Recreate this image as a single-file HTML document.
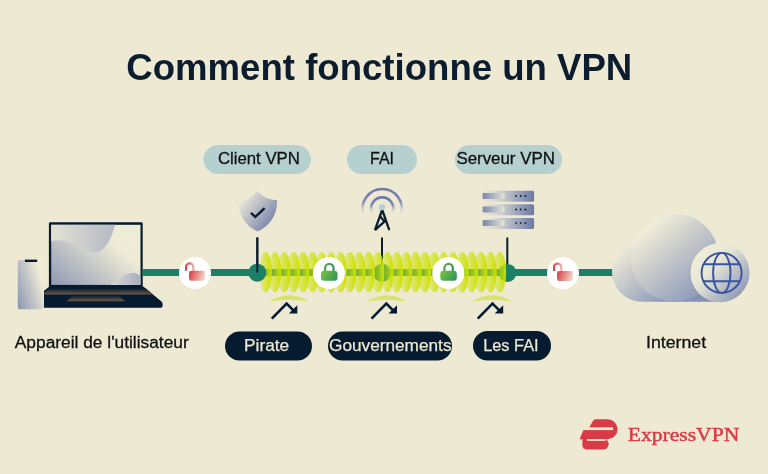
<!DOCTYPE html>
<html><head><meta charset="utf-8">
<style>
html,body{margin:0;padding:0;background:#EEE9D2;width:768px;height:474px;overflow:hidden}
svg{display:block;will-change:transform}
text{font-family:"Liberation Sans",sans-serif}
</style></head><body>
<svg width="768" height="474" viewBox="0 0 768 474">
<defs>
  <linearGradient id="ell" x1="0" y1="0" x2="1" y2="0">
    <stop offset="0" stop-color="#CCE200" stop-opacity="0.28"/>
    <stop offset="0.3" stop-color="#CCE200" stop-opacity="0.5"/>
    <stop offset="1" stop-color="#CCE200" stop-opacity="1"/>
  </linearGradient>
  <linearGradient id="greenlock" x1="0" y1="0" x2="1" y2="1">
    <stop offset="0" stop-color="#74C23C"/>
    <stop offset="1" stop-color="#1C8068"/>
  </linearGradient>
  <linearGradient id="redlock" x1="0" y1="0" x2="1" y2="0.3">
    <stop offset="0" stop-color="#D63A45"/>
    <stop offset="1" stop-color="#F2D8C4"/>
  </linearGradient>
  <linearGradient id="steel" x1="0" y1="0" x2="1" y2="1">
    <stop offset="0" stop-color="#EDEAD6"/>
    <stop offset="1" stop-color="#6E7CA8"/>
  </linearGradient>
  <linearGradient id="cloudg" x1="0.2" y1="0.1" x2="0.8" y2="1">
    <stop offset="0" stop-color="#EDEAD6"/>
    <stop offset="1" stop-color="#7F8CB2"/>
  </linearGradient>
  <linearGradient id="phoneg" x1="0.95" y1="0.45" x2="0" y2="1">
    <stop offset="0" stop-color="#EEEBD6"/>
    <stop offset="1" stop-color="#8A94B2"/>
  </linearGradient>
  <linearGradient id="screeng" x1="0" y1="1" x2="1" y2="0.2">
    <stop offset="0" stop-color="#8F99B4"/>
    <stop offset="0.75" stop-color="#EDEAD5"/>
    <stop offset="1" stop-color="#EEEBD6"/>
  </linearGradient>
  <linearGradient id="blobg" x1="0" y1="0" x2="1" y2="0">
    <stop offset="0" stop-color="#E2E1D2"/>
    <stop offset="1" stop-color="#B5BAC6"/>
  </linearGradient>
  <linearGradient id="bumpg" x1="0" y1="0" x2="1" y2="0">
    <stop offset="0" stop-color="#D9DAD3"/>
    <stop offset="1" stop-color="#A8AEC0"/>
  </linearGradient>
  <linearGradient id="browng" x1="0" y1="0" x2="0" y2="1">
    <stop offset="0" stop-color="#0A1E2C"/>
    <stop offset="1" stop-color="#6E5849"/>
  </linearGradient>
  <linearGradient id="bumpcg" gradientUnits="userSpaceOnUse" x1="618" y1="252" x2="668" y2="305">
    <stop offset="0" stop-color="#EEEBD7"/>
    <stop offset="1" stop-color="#8591B6"/>
  </linearGradient>
  <linearGradient id="bigcg" gradientUnits="userSpaceOnUse" x1="652" y1="226" x2="712" y2="298">
    <stop offset="0" stop-color="#EEEBD7"/>
    <stop offset="1" stop-color="#8390B6"/>
  </linearGradient>
  <linearGradient id="globecg" gradientUnits="userSpaceOnUse" x1="700" y1="252" x2="750" y2="298">
    <stop offset="0" stop-color="#EFECD8"/>
    <stop offset="0.3" stop-color="#E8E7D6"/>
    <stop offset="1" stop-color="#7D8AB3"/>
  </linearGradient>
  <linearGradient id="shieldg" x1="0.05" y1="0.2" x2="0.95" y2="0.95">
    <stop offset="0" stop-color="#EDEAD8"/>
    <stop offset="1" stop-color="#6877A6"/>
  </linearGradient>
  <linearGradient id="arcg" gradientUnits="userSpaceOnUse" x1="0" y1="187" x2="0" y2="216">
    <stop offset="0" stop-color="#6A78A8"/>
    <stop offset="0.5" stop-color="#7C89B3"/>
    <stop offset="1" stop-color="#D8DCD6" stop-opacity="0"/>
  </linearGradient>
  <linearGradient id="arcg2" gradientUnits="userSpaceOnUse" x1="0" y1="196" x2="0" y2="214">
    <stop offset="0" stop-color="#6A78A8"/>
    <stop offset="0.5" stop-color="#7C89B3"/>
    <stop offset="1" stop-color="#D8DCD6" stop-opacity="0"/>
  </linearGradient>
  <linearGradient id="srvg" x1="0" y1="0" x2="1" y2="0">
    <stop offset="0" stop-color="#E4E2D3" stop-opacity="0.3"/>
    <stop offset="0.4" stop-color="#CACDCD"/>
    <stop offset="1" stop-color="#6B79A6"/>
  </linearGradient>
  <linearGradient id="srvpg" x1="0" y1="0" x2="1" y2="0">
    <stop offset="0" stop-color="#7A87AE"/>
    <stop offset="1" stop-color="#E6E5D4"/>
  </linearGradient>
  <linearGradient id="redlockA" gradientUnits="userSpaceOnUse" x1="185" y1="0" x2="196" y2="0">
    <stop offset="0" stop-color="#D63A45"/>
    <stop offset="1" stop-color="#F0CFC0"/>
  </linearGradient>
  <linearGradient id="redlockB" gradientUnits="userSpaceOnUse" x1="189" y1="272" x2="205" y2="278">
    <stop offset="0" stop-color="#D63A45"/>
    <stop offset="1" stop-color="#F3DDC9"/>
  </linearGradient>
  <linearGradient id="glA" gradientUnits="userSpaceOnUse" x1="322" y1="263" x2="337" y2="273">
    <stop offset="0" stop-color="#62B444"/>
    <stop offset="1" stop-color="#1E8866"/>
  </linearGradient>
  <linearGradient id="glB" gradientUnits="userSpaceOnUse" x1="320" y1="270" x2="339" y2="283">
    <stop offset="0" stop-color="#80CA3A"/>
    <stop offset="1" stop-color="#1F8A66"/>
  </linearGradient>
</defs>
<rect width="768" height="474" fill="#EEE9D2"/>
<rect width="768" height="1" fill="#E8E6CF"/>

<!-- Title -->
<text x="126.3" y="80" font-size="37.5" font-weight="bold" fill="#0B1D2E" textLength="506" lengthAdjust="spacingAndGlyphs">Comment fonctionne un VPN</text>


<!-- phone -->
<rect x="17.8" y="259.9" width="25.6" height="49.4" rx="2.6" fill="url(#phoneg)"/>
<rect x="24.9" y="259.6" width="12.3" height="2.4" fill="#061B2F"/>
<!-- laptop -->
<rect x="48.9" y="222.3" width="93.8" height="66" rx="1.4" fill="#061B2F"/>
<rect x="51.2" y="224.8" width="89.3" height="60.1" fill="url(#screeng)"/>
<path d="M51.2,241.5 C63,237 78,246 90,251.5 C101,256 110,245 115,224.8 L51.2,224.8 Z" fill="url(#blobg)"/>
<path d="M110,284.9 C118,281 124,273 133,273 C137,273 139,275 140.5,276 L140.5,284.9 Z" fill="url(#bumpg)"/>
<path d="M49.5,286.6 L143.3,286.6 L161.5,301.6 Q162.6,302.5 162.6,304 L162.6,306 Q162.6,307.7 160.9,307.7 L44,307.7 L44,290.7 Z" fill="#061B2F"/>
<path d="M49.1,288.5 L145.8,288.5 L153.3,294.6 L44.2,294.6 L44.2,292.7 Z" fill="url(#browng)"/>
<path d="M72.9,295.6 L118.6,295.6 L125,301.2 L66.7,301.2 Z" fill="url(#browng)"/>

<!-- main green line -->
<rect x="142.6" y="269" width="472" height="7" fill="#1C8068"/>

<!-- top pills -->
<rect x="203.5" y="145" width="107.3" height="29" rx="14.5" fill="#B6D0D0"/>
<text x="217.9" y="163.6" font-size="17" fill="#111" stroke="#111" stroke-width="0.3" textLength="82" lengthAdjust="spacingAndGlyphs">Client VPN</text>
<rect x="347" y="145" width="70" height="29" rx="14.5" fill="#B6D0D0"/>
<text x="370" y="163.5" font-size="16" fill="#111" stroke="#111" stroke-width="0.3" textLength="24" lengthAdjust="spacingAndGlyphs">FAI</text>
<rect x="455" y="145" width="107" height="29" rx="14.5" fill="#B6D0D0"/>
<text x="456.4" y="164.3" font-size="17" fill="#111" stroke="#111" stroke-width="0.3" textLength="98.5" lengthAdjust="spacingAndGlyphs">Serveur VPN</text>

<!-- bottom pills -->
<rect x="225" y="331.5" width="87" height="29" rx="14.5" fill="#061B2F"/>
<text x="244" y="351.1" font-size="17" fill="#EEE9D2" stroke="#EEE9D2" stroke-width="0.25" textLength="45.2" lengthAdjust="spacingAndGlyphs">Pirate</text>
<rect x="328" y="331.5" width="124" height="29" rx="14.5" fill="#061B2F"/>
<text x="329" y="351" font-size="17" fill="#EEE9D2" stroke="#EEE9D2" stroke-width="0.25" textLength="122.5" lengthAdjust="spacingAndGlyphs">Gouvernements</text>
<rect x="473" y="331" width="78" height="29.5" rx="14.75" fill="#061B2F"/>
<text x="483.2" y="350.8" font-size="17" fill="#EEE9D2" stroke="#EEE9D2" stroke-width="0.25" textLength="55.4" lengthAdjust="spacingAndGlyphs">Les FAI</text>

<text x="14.8" y="348" font-size="17.3" fill="#111" stroke="#111" stroke-width="0.3" textLength="173.9" lengthAdjust="spacingAndGlyphs">Appareil de l'utilisateur</text>
<text x="646" y="347.9" font-size="17.3" fill="#111" stroke="#111" stroke-width="0.3" textLength="60.1" lengthAdjust="spacingAndGlyphs">Internet</text>


<!-- cloud -->
<path d="M612,272 A30,30 0 0 1 642,242 L660,242 L660,262 L720,262 L720,301.7 L642,301.7 A30,30 0 0 1 612,272 Z" fill="url(#bumpcg)"/>
<circle cx="674.6" cy="257.7" r="44" fill="url(#bigcg)"/>
<circle cx="720" cy="272.8" r="29.5" fill="url(#globecg)"/>
<g fill="none" stroke="#3A55A0" stroke-width="1.9">
  <circle cx="721.6" cy="272.9" r="20"/>
  <ellipse cx="721.8" cy="272.9" rx="8.7" ry="20"/>
  <line x1="703.2" y1="264.3" x2="740" y2="264.3"/>
  <line x1="703.2" y1="281.3" x2="740" y2="281.3"/>
</g>

<!-- shield -->
<path d="M257.6,191 C252.5,196.5 246.5,200.5 239,201.5 C238.5,215 245,225.5 257.6,231.5 C270,225.5 277.5,215 277,200 C269,200.5 262.5,196.5 257.6,191 Z" fill="url(#shieldg)"/>
<polyline points="250.9,212.9 255.3,216.9 264.6,208.2" fill="none" stroke="#0B1D2E" stroke-width="2.4"/>

<!-- tower -->
<path d="M363.5,214.4 A19.6,19.6 0 1 1 400.9,214.4" fill="none" stroke="url(#arcg)" stroke-width="2.6"/>
<path d="M372.3,213.2 A11,11 0 1 1 392.1,213.2" fill="none" stroke="url(#arcg2)" stroke-width="2.6"/>
<path d="M374.9,230.2 L382.2,209.8 L389.3,230.2 M374.9,230.2 L384.4,221.6 L380.3,216.4" fill="none" stroke="#0B1D2E" stroke-width="2.3"/>
<circle cx="382" cy="207.2" r="3.1" fill="#B4D0D6"/>

<!-- servers -->
<g id="servers"><rect x="480.6" y="190.8" width="53.5" height="11" rx="1.6" fill="url(#srvg)"/><rect x="482.7" y="192.9" width="21.9" height="6" rx="0.8" fill="url(#srvpg)"/><circle cx="516" cy="196.0" r="0.95" fill="#0B1D2E"/><circle cx="520.7" cy="196.0" r="0.95" fill="#0B1D2E"/><circle cx="525.4" cy="196.0" r="0.95" fill="#0B1D2E"/><rect x="480.6" y="204.3" width="53.5" height="11" rx="1.6" fill="url(#srvg)"/><rect x="482.7" y="206.4" width="21.9" height="6" rx="0.8" fill="url(#srvpg)"/><circle cx="516" cy="209.5" r="0.95" fill="#0B1D2E"/><circle cx="520.7" cy="209.5" r="0.95" fill="#0B1D2E"/><circle cx="525.4" cy="209.5" r="0.95" fill="#0B1D2E"/><rect x="480.6" y="217.9" width="53.5" height="11" rx="1.6" fill="url(#srvg)"/><rect x="482.7" y="220.0" width="21.9" height="6" rx="0.8" fill="url(#srvpg)"/><circle cx="516" cy="223.1" r="0.95" fill="#0B1D2E"/><circle cx="520.7" cy="223.1" r="0.95" fill="#0B1D2E"/><circle cx="525.4" cy="223.1" r="0.95" fill="#0B1D2E"/></g>

<!-- arcs & arrows -->
<g id="arrows"><path d="M269,301.6 Q289,289 309,301.6 Q289,297.8 269,301.6 Z" fill="#D9E36C"/><polyline points="271.8,318.6 286.6,303.6 293.4,310.4" fill="none" stroke="#061B2F" stroke-width="2.6"/><path d="M288.8,313.6 L297.3,305.3 L297.3,313.6 Z" fill="#061B2F"/><path d="M366.8,301.6 Q386.8,289 406.8,301.6 Q386.8,297.8 366.8,301.6 Z" fill="#D9E36C"/><polyline points="371.5,318.6 386.3,303.6 393.1,310.4" fill="none" stroke="#061B2F" stroke-width="2.6"/><path d="M388.5,313.6 L397.0,305.3 L397.0,313.6 Z" fill="#061B2F"/><path d="M472,301.6 Q492,289 512,301.6 Q492,297.8 472,301.6 Z" fill="#D9E36C"/><polyline points="477.7,318.6 492.5,303.6 499.3,310.4" fill="none" stroke="#061B2F" stroke-width="2.6"/><path d="M494.7,313.6 L503.2,305.3 L503.2,313.6 Z" fill="#061B2F"/></g>

<!-- logo -->
<g fill="#DA3A46">
  <path d="M589.3,427.3 L593.2,420.6 Q594.1,419.2 595.8,419.2 L607.6,419.2 A10,10 0 0 1 607.6,439.2 L579.6,439.2 L583.4,430.1 Z"/>
  <path d="M582.4,438.6 L603.2,438.6 A5.5,5.5 0 0 1 603.2,449.6 L586.8,449.6 A4.4,4.4 0 0 1 582.4,445.2 Z"/>
  <rect x="578" y="427.3" width="35" height="2.8" fill="#EEE9D2"/>
  <rect x="587" y="439.1" width="18.6" height="1.8" fill="#EEE9D2"/>
</g>
<text x="627.7" y="440.6" style="font-family:'Liberation Serif',serif" font-size="19.5" fill="#DA3A46" stroke="#DA3A46" stroke-width="0.45" textLength="111.6" lengthAdjust="spacingAndGlyphs">ExpressVPN</text>

<!-- vertical connector lines -->
<rect x="256.3" y="237.5" width="2" height="35" fill="#0B1D2E"/>
<rect x="381" y="237.5" width="2" height="35" fill="#0B1D2E"/>
<rect x="506.3" y="237.5" width="2" height="35" fill="#0B1D2E"/>

<!-- nodes under tunnel -->
<circle cx="382" cy="272.8" r="9" fill="#1C8068"/>
<circle cx="507.5" cy="272.9" r="9" fill="#1C8068"/>

<!-- tunnel -->
<g id="tunnel"><ellipse cx="265.50" cy="272.2" rx="6.4" ry="20.2" fill="url(#ell)"/><ellipse cx="274.87" cy="272.2" rx="6.4" ry="20.2" fill="url(#ell)"/><ellipse cx="284.24" cy="272.2" rx="6.4" ry="20.2" fill="url(#ell)"/><ellipse cx="293.61" cy="272.2" rx="6.4" ry="20.2" fill="url(#ell)"/><ellipse cx="302.98" cy="272.2" rx="6.4" ry="20.2" fill="url(#ell)"/><ellipse cx="312.35" cy="272.2" rx="6.4" ry="20.2" fill="url(#ell)"/><ellipse cx="321.72" cy="272.2" rx="6.4" ry="20.2" fill="url(#ell)"/><ellipse cx="331.09" cy="272.2" rx="6.4" ry="20.2" fill="url(#ell)"/><ellipse cx="340.46" cy="272.2" rx="6.4" ry="20.2" fill="url(#ell)"/><ellipse cx="349.83" cy="272.2" rx="6.4" ry="20.2" fill="url(#ell)"/><ellipse cx="359.20" cy="272.2" rx="6.4" ry="20.2" fill="url(#ell)"/><ellipse cx="368.57" cy="272.2" rx="6.4" ry="20.2" fill="url(#ell)"/><ellipse cx="377.94" cy="272.2" rx="6.4" ry="20.2" fill="url(#ell)"/><ellipse cx="387.31" cy="272.2" rx="6.4" ry="20.2" fill="url(#ell)"/><ellipse cx="396.68" cy="272.2" rx="6.4" ry="20.2" fill="url(#ell)"/><ellipse cx="406.05" cy="272.2" rx="6.4" ry="20.2" fill="url(#ell)"/><ellipse cx="415.42" cy="272.2" rx="6.4" ry="20.2" fill="url(#ell)"/><ellipse cx="424.79" cy="272.2" rx="6.4" ry="20.2" fill="url(#ell)"/><ellipse cx="434.16" cy="272.2" rx="6.4" ry="20.2" fill="url(#ell)"/><ellipse cx="443.53" cy="272.2" rx="6.4" ry="20.2" fill="url(#ell)"/><ellipse cx="452.90" cy="272.2" rx="6.4" ry="20.2" fill="url(#ell)"/><ellipse cx="462.27" cy="272.2" rx="6.4" ry="20.2" fill="url(#ell)"/><ellipse cx="471.64" cy="272.2" rx="6.4" ry="20.2" fill="url(#ell)"/><ellipse cx="481.01" cy="272.2" rx="6.4" ry="20.2" fill="url(#ell)"/><ellipse cx="490.38" cy="272.2" rx="6.4" ry="20.2" fill="url(#ell)"/><ellipse cx="499.75" cy="272.2" rx="6.4" ry="20.2" fill="url(#ell)"/></g>

<circle cx="257.3" cy="272.7" r="9" fill="#1C8068"/>
<rect x="256.3" y="237.5" width="2" height="35" fill="#0B1D2E"/>

<!-- lock circles -->
<circle cx="195" cy="273" r="16" fill="#fff"/>
<circle cx="563" cy="273.2" r="16" fill="#fff"/>
<circle cx="329" cy="273" r="16" fill="#fff"/>
<circle cx="448.3" cy="273" r="16" fill="#fff"/>

<g>
  <path d="M186.1,270.7 L186.1,267 A3.65,3.65 0 0 1 193.4,267 L193.4,270.8" fill="none" stroke="url(#redlockA)" stroke-width="2.2"/>
  <rect x="189" y="270.7" width="15.8" height="10.1" rx="2.3" fill="url(#redlockB)"/>
</g>
<g transform="translate(368,0.2)">
  <path d="M186.1,270.7 L186.1,267 A3.65,3.65 0 0 1 193.4,267 L193.4,270.8" fill="none" stroke="url(#redlockA)" stroke-width="2.2"/>
  <rect x="189" y="270.7" width="15.8" height="10.1" rx="2.3" fill="url(#redlockB)"/>
</g>
<g id="glock">
  <path d="M325.1,271 L325.1,268 A4.2,4.2 0 0 1 333.5,268 L333.5,271" fill="none" stroke="url(#glA)" stroke-width="2.2"/>
  <rect x="321" y="270.7" width="16.5" height="10.1" rx="3" fill="url(#glB)"/>
</g>
<g transform="translate(119.3,0)">
  <path d="M325.1,271 L325.1,268 A4.2,4.2 0 0 1 333.5,268 L333.5,271" fill="none" stroke="url(#glA)" stroke-width="2.2"/>
  <rect x="321" y="270.7" width="16.5" height="10.1" rx="3" fill="url(#glB)"/>
</g>

</svg>
</body></html>
